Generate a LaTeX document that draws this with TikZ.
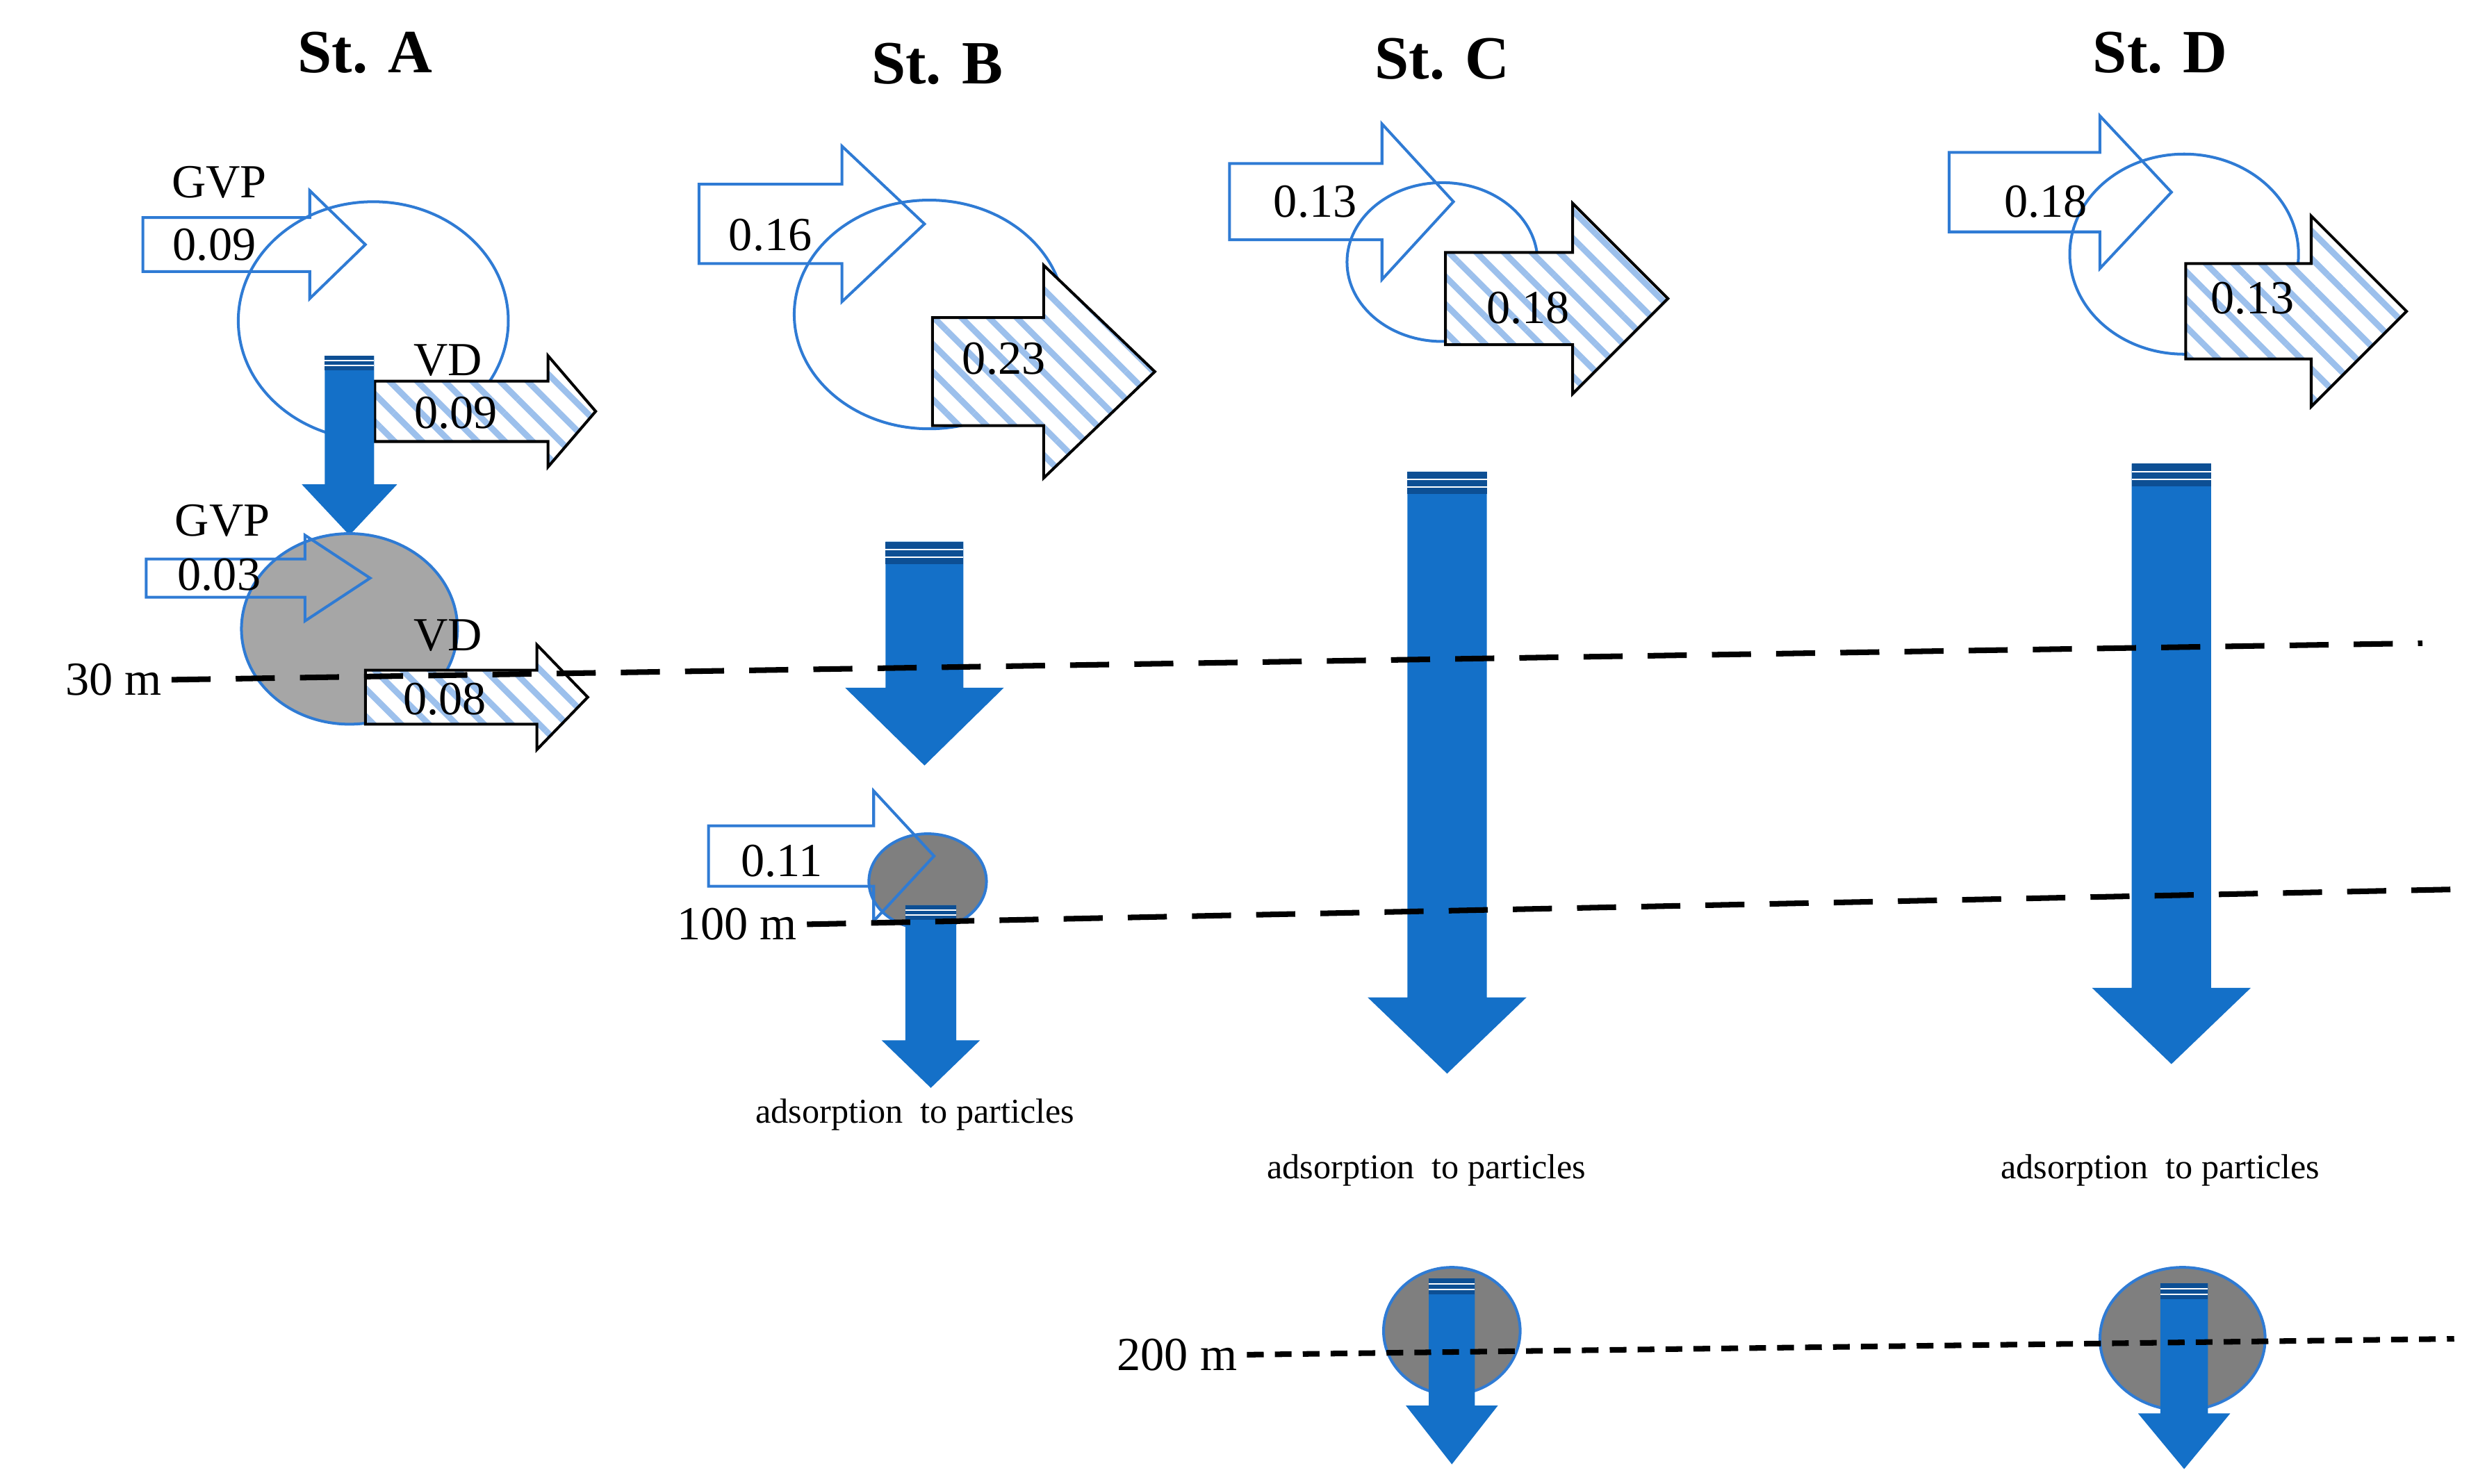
\documentclass[tikz,border=0pt]{standalone}
\usepackage{fontspec}
\setmainfont{Liberation Serif}
\usetikzlibrary{patterns.meta}

\definecolor{lineblue}{HTML}{2F7BD4}
\definecolor{arrowblue}{HTML}{1470C8}
\definecolor{darkblue}{HTML}{0D4F94}
\definecolor{hatchblue}{HTML}{9CC0EC}
\definecolor{lightgrey}{HTML}{A6A6A6}
\definecolor{midgrey}{HTML}{7F7F7F}

% right block arrow: style, x start, x neck, x tip, y centre, body half, head half
\newcommand{\rarr}[7]{\path[#1] (#2,#5-#6) -- (#3,#5-#6) -- (#3,#5-#7) -- (#4,#5)
  -- (#3,#5+#7) -- (#3,#5+#6) -- (#2,#5+#6) -- cycle;}
% down block arrow: x centre, y top, y neck, y tip, body half, head half, band
\newcommand{\darr}[7]{
  \fill[arrowblue] (#1-#5,#2) -- (#1+#5,#2) -- (#1+#5,#3) -- (#1+#6,#3) -- (#1,#4)
    -- (#1-#6,#3) -- (#1-#5,#3) -- cycle;
  \fill[darkblue] (#1-#5,#2) rectangle (#1+#5,#2+#7);
  \draw[white, line width=0.5pt] (#1-#5,#2+0.35*#7) -- (#1+#5,#2+0.35*#7)
    (#1-#5,#2+0.7*#7) -- (#1+#5,#2+0.7*#7);}

\begin{document}
\begin{tikzpicture}[x=0.02cm, y=-0.02cm,
    inflow/.style={draw=lineblue, line width=1pt},
    outflow/.style={preaction={fill=white}, draw=black, line width=1pt,
      pattern={Lines[angle=-45, distance=7pt, line width=2.2pt]}, pattern color=hatchblue},
    layer/.style={draw=lineblue, line width=1pt},
    depth/.style={draw=black, line width=2pt, dash pattern=on 14pt off 9pt},
    title/.style={font=\fontsize{22}{24}\selectfont\bfseries},
    flux/.style={font=\fontsize{17}{19}\selectfont},
    small/.style={font=\fontsize{12.5}{14}\selectfont}]
    \useasboundingbox (0,0) rectangle (1560,934);

    % St. A
    \draw[layer] (235,202) ellipse (85 and 75);
    \rarr{inflow}{90}{195}{230}{154}{17}{34}
    \rarr{outflow}{236}{345}{375}{259}{19}{35}
    \darr{220}{224}{305}{337}{15.5}{30}{9}
    \filldraw[layer, fill=lightgrey] (220,396) ellipse (68 and 60);
    \rarr{inflow}{92}{192}{233}{364}{12}{27}
    \rarr{outflow}{230}{338}{370}{439}{17}{33}

    % St. B
    \draw[layer] (585,198) ellipse (85 and 72);
    \rarr{inflow}{440}{530}{582}{141}{25}{49}
    \rarr{outflow}{587}{657}{727}{234}{34}{67}
    \darr{582}{341}{433}{482}{24.5}{50}{14}
    \filldraw[layer, fill=midgrey] (584,555) ellipse (37 and 30);
    \rarr{inflow}{446}{550}{588}{539}{19}{41}
    \darr{586}{570}{655}{685}{16}{31}{9}

    % St. C
    \draw[layer] (908,165) ellipse (60 and 50);
    \rarr{inflow}{774}{870}{915}{127}{24}{49}
    \rarr{outflow}{910}{990}{1050}{188}{29}{60}
    \darr{911}{297}{628}{676}{25}{50}{14}
    \filldraw[layer, fill=midgrey] (914,838) ellipse (43 and 40);
    \darr{914}{805}{885}{922}{14.5}{29}{10}

    % St. D
    \draw[layer] (1375,160) ellipse (72 and 63);
    \rarr{inflow}{1227}{1322}{1367}{121}{25}{48}
    \rarr{outflow}{1376}{1455}{1515}{196}{30}{60}
    \darr{1367}{292}{622}{670}{25}{50}{14}
    \filldraw[layer, fill=midgrey] (1374,843) ellipse (52 and 45);
    \darr{1375}{808}{890}{925}{15}{29}{10}

    % depth lines
    \coordinate (d30a) at (108,428);
    \coordinate (d30b) at (1525,405);
    \coordinate (d100a) at (508,582);
    \coordinate (d100b) at (1545,560);
    \coordinate (d200a) at (785,853);
    \coordinate (d200b) at (1545,843);
    \draw[depth] (d30a) -- (d30b);
    \draw[depth] (d100a) -- (d100b);
    \draw[depth, dash pattern=on 6pt off 4pt] (d200a) -- (d200b);
    \node[flux, anchor=east] (m30) at (d30a) {30 m};
    \node[flux, anchor=east] (m100) at (d100a) {100 m};
    \node[flux, anchor=east] (m200) at (d200a) {200 m};

    % labels
    \node[title] (stA) at (230,33) {St. A};
    \node[title] (stB) at (590,40) {St. B};
    \node[title] (stC) at (908,37) {St. C};
    \node[title] (stD) at (1360,33) {St. D};
    \node[flux] (gvpA) at (138,115) {GVP};
    \node[flux] (fA1) at (135,154) {0.09};
    \node[flux] (vdA) at (282,227) {VD};
    \node[flux] (fA2) at (287,260) {0.09};
    \node[flux] (gvpA2) at (140,328) {GVP};
    \node[flux] (fA3) at (138,362) {0.03};
    \node[flux] (vdA2) at (282,400) {VD};
    \node[flux] (fA4) at (280,440) {0.08};
    \node[flux] (fB1) at (485,148) {0.16};
    \node[flux] (fB2) at (632,226) {0.23};
    \node[flux] (fB3) at (492,542) {0.11};
    \node[flux] (fC1) at (828,127) {0.13};
    \node[flux] (fC2) at (962,194) {0.18};
    \node[flux] (fD1) at (1288,127) {0.18};
    \node[flux] (fD2) at (1418,188) {0.13};
    \node[small] (adsB) at (576,702) {adsorption\ \ to particles};
    \node[small] (adsC) at (898,737) {adsorption\ \ to particles};
    \node[small] (adsD) at (1360,737) {adsorption\ \ to particles};
\end{tikzpicture}
\end{document}
